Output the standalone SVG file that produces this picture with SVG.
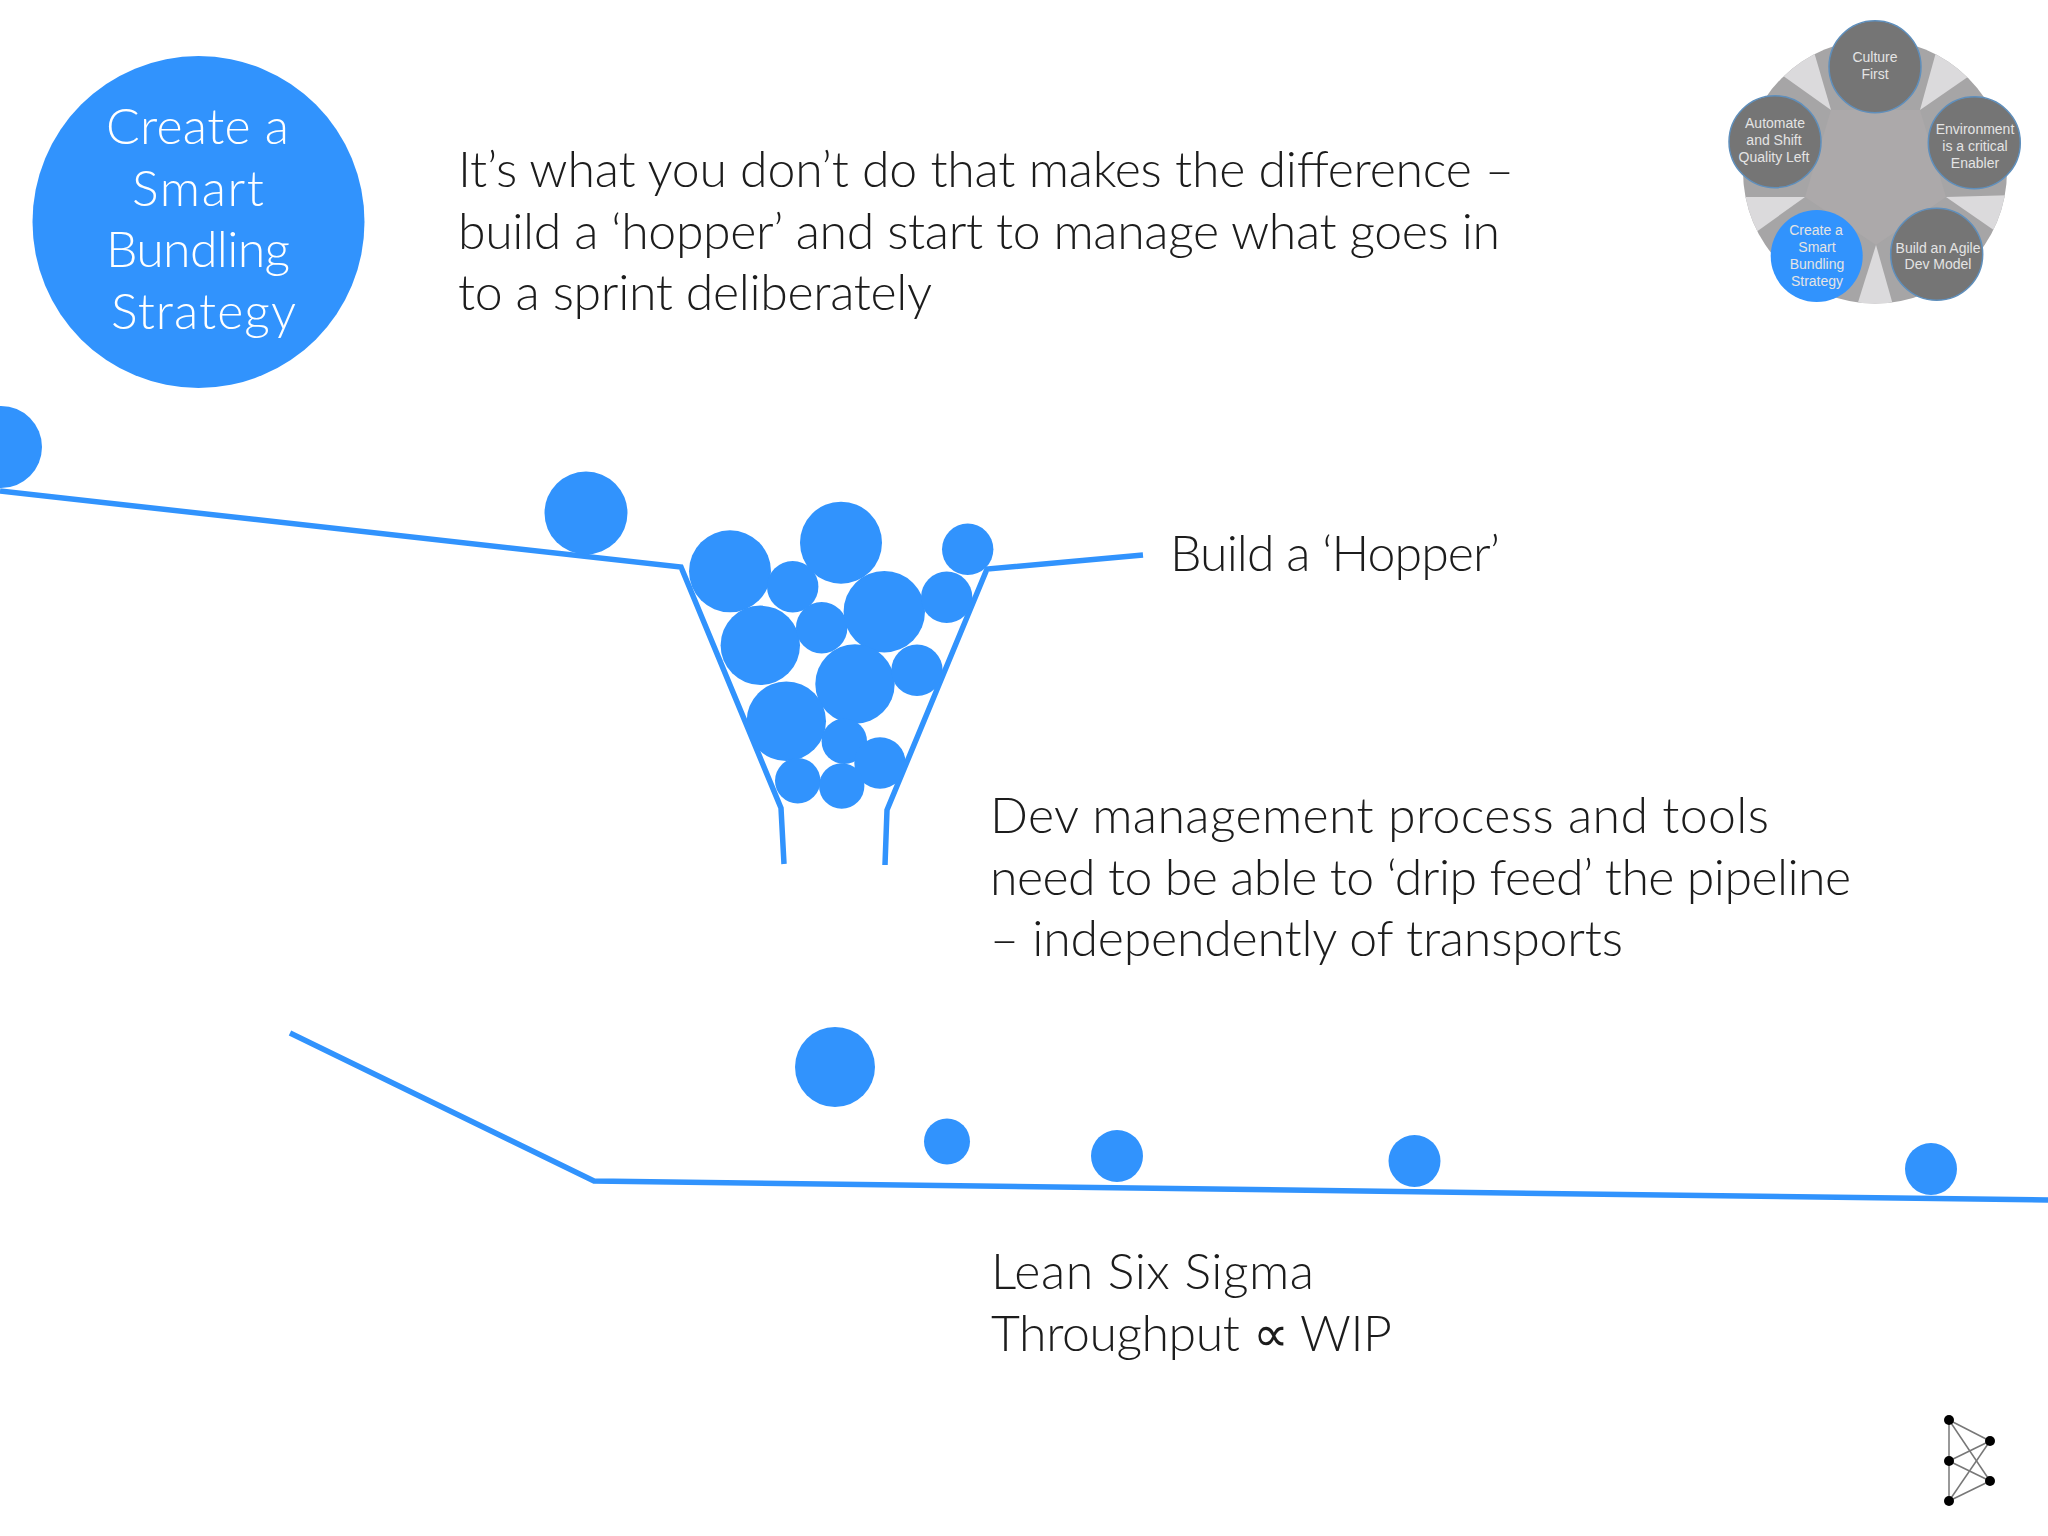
<svg xmlns="http://www.w3.org/2000/svg" width="2048" height="1536" viewBox="0 0 2048 1536">
<defs><clipPath id="disc"><circle cx="1875" cy="171.500" r="132"/></clipPath></defs>
<style>
.b{fill:#3193fd}
.l{fill:none;stroke:#3193fd;stroke-width:5.5;stroke-linejoin:miter}
.t{font-family:"Lato","Liberation Sans",sans-serif;font-weight:300;font-size:50px;fill:#1c1c1c}
.w{font-family:"Lato","Liberation Sans",sans-serif;font-weight:300;font-size:50px;fill:#fff;text-anchor:middle}
.m{font-family:"Liberation Sans",Arial,sans-serif;font-size:14px;fill:#e4e4e4;text-anchor:middle}
.g{fill:#757575;stroke:#5f8fbc;stroke-width:1.5}
.e{stroke:#777;stroke-width:1.5}
</style>
<rect width="2048" height="1536" fill="#fff"/>
<g id="connectors">
<polyline class="l" points="0,491 681,567 781,808 784,864"/>
<polyline class="l" points="1143,555 987,569 887,810 885,865"/>
<polyline class="l" points="290,1033 594,1181 2048,1200"/>
</g>
<g id="title"><circle class="b" cx="198.500" cy="222" r="166"/>
<text class="w" x="197.500" y="144" textLength="183">Create a</text><text class="w" x="198" y="206" textLength="132">Smart</text><text class="w" x="198" y="267" textLength="184">Bundling</text><text class="w" x="203.500" y="329" textLength="185">Strategy</text></g>
<g id="balls">
<circle class="b" cx="1" cy="447" r="41"/><circle class="b" cx="586" cy="513" r="41.500"/>
<circle class="b" cx="730" cy="571.300" r="41"/><circle class="b" cx="792.700" cy="586.700" r="25.700"/><circle class="b" cx="841" cy="542.700" r="41"/><circle class="b" cx="967.700" cy="549.300" r="25.700"/><circle class="b" cx="760.300" cy="645.300" r="39.700"/><circle class="b" cx="821.700" cy="627.700" r="25.700"/><circle class="b" cx="884.300" cy="611.700" r="40.700"/><circle class="b" cx="946.700" cy="597.300" r="25.700"/><circle class="b" cx="855" cy="684" r="39.700"/><circle class="b" cx="917" cy="670.300" r="25.700"/><circle class="b" cx="786.300" cy="721.300" r="39.700"/><circle class="b" cx="844.300" cy="741.300" r="22.700"/><circle class="b" cx="880" cy="763" r="25.700"/><circle class="b" cx="797.700" cy="780.700" r="22.700"/><circle class="b" cx="841.700" cy="786" r="22.700"/>
<circle class="b" cx="835" cy="1067" r="40"/><circle class="b" cx="947" cy="1141.500" r="23"/><circle class="b" cx="1117" cy="1156" r="26"/><circle class="b" cx="1414.500" cy="1161" r="26"/><circle class="b" cx="1931" cy="1169" r="26"/>
</g>
<g id="text-intro"><text class="t" x="458" y="187" textLength="1056">It’s what you don’t do that makes the difference –</text><text class="t" x="458" y="249" textLength="1042">build a ‘hopper’ and start to manage what goes in</text><text class="t" x="458" y="310" textLength="474">to a sprint deliberately</text></g>
<g id="text-hopper"><text class="t" x="1170" y="571" textLength="330">Build a ‘Hopper’</text></g>
<g id="text-drip"><text class="t" x="990" y="833" textLength="779">Dev management process and tools</text><text class="t" x="990" y="895" textLength="861">need to be able to ‘drip feed’ the pipeline</text><text class="t" x="990" y="956" textLength="633">– independently of transports</text></g>
<g id="text-lean"><text class="t" x="991" y="1289" textLength="323">Lean Six Sigma</text><text class="t" x="991" y="1351" textLength="401">Throughput ∝ WIP</text></g>
<g id="wheel">
<circle cx="1875" cy="171.500" r="132" fill="#a6a5a6"/>
<polygon points="1831,110 1920,110 1946,197 1876,245 1805,197" fill="#aca9aa"/>
<g fill="#dbdadc" clip-path="url(#disc)"><polygon points="1831,110 1775,70 1812,45"/><polygon points="1920,110 1938,45 1975,72"/><polygon points="1946,197 2015,195 1998,233"/><polygon points="1876,245 1855,312 1895,312"/><polygon points="1805,197 1735,197 1752,235"/></g>
<g id="w1"><circle class="g" cx="1875" cy="66.700" r="46"/><text class="m" x="1875" y="62">Culture</text><text class="m" x="1875" y="79">First</text></g>
<g id="w2"><circle class="g" cx="1974.300" cy="142.700" r="46"/><text class="m" x="1975" y="134">Environment</text><text class="m" x="1975" y="151">is a critical</text><text class="m" x="1975" y="168">Enabler</text></g>
<g id="w3"><circle class="g" cx="1936.700" cy="254.300" r="46"/><text class="m" x="1938" y="253">Build an Agile</text><text class="m" x="1938" y="269">Dev Model</text></g>
<g id="w4"><circle cx="1816.700" cy="256" r="46" fill="#3193fd"/><text class="m" x="1816" y="235">Create a</text><text class="m" x="1817" y="252">Smart</text><text class="m" x="1817" y="269">Bundling</text><text class="m" x="1817" y="286">Strategy</text></g>
<g id="w5"><circle class="g" cx="1775" cy="141.700" r="46"/><text class="m" x="1775" y="128">Automate</text><text class="m" x="1774" y="145">and Shift</text><text class="m" x="1774" y="162">Quality Left</text></g>
</g>
<g id="logo">
<g class="e"><line x1="1949" y1="1420" x2="1949" y2="1501"/><line x1="1949" y1="1420" x2="1990" y2="1441"/><line x1="1949" y1="1420" x2="1990" y2="1481"/><line x1="1949" y1="1461" x2="1990" y2="1441"/><line x1="1949" y1="1461" x2="1990" y2="1481"/><line x1="1949" y1="1501" x2="1990" y2="1441"/><line x1="1949" y1="1501" x2="1990" y2="1481"/></g>
<circle cx="1949" cy="1420" r="5"/><circle cx="1949" cy="1461" r="5"/><circle cx="1949" cy="1501" r="5"/><circle cx="1990" cy="1441" r="5"/><circle cx="1990" cy="1481" r="5"/>
</g>
</svg>
